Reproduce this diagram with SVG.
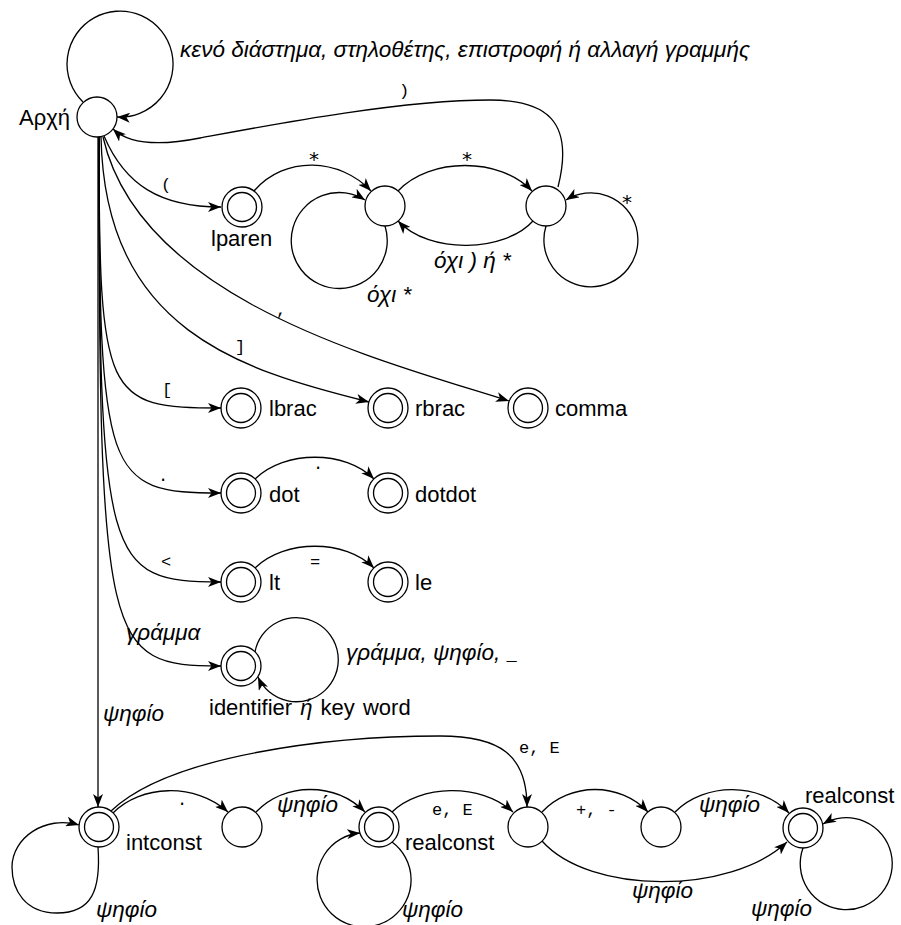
<svg xmlns="http://www.w3.org/2000/svg" width="901" height="925" viewBox="0 0 901 925">
<defs>
<marker id="ah" markerUnits="userSpaceOnUse" markerWidth="14" markerHeight="10" viewBox="0 0 14 10" refX="13" refY="5" orient="auto">
<path d="M0,0 L13,5 L0,10 L3.5,5 z" fill="#000"/>
</marker>
</defs>
<style>
.st{fill:#fff;stroke:#000;stroke-width:1.3}
.e{fill:none;stroke:#000;stroke-width:1.3;marker-end:url(#ah)}
.lb{font-family:"Liberation Sans",Arial,sans-serif;font-size:22px;fill:#000}
.it{font-family:"Liberation Sans",Arial,sans-serif;font-style:italic;font-size:22.5px;fill:#000}
.mo{font-family:"Liberation Mono","Courier New",monospace;font-size:17px;fill:#000}
.mc{font-family:"Liberation Mono","Courier New",monospace;font-size:17px;fill:#000;text-anchor:middle}
.ast{font-family:"DejaVu Sans Mono","Liberation Mono",monospace;font-size:20px;fill:#000;text-anchor:middle}
</style>
<rect width="901" height="925" fill="#fff"/>
<g id="connectors">
<path class="e" d="M83,102 A53,53 0 1 1 117,117"/>
<path class="e" d="M104,136 C125,185 160,207 221,207"/>
<path class="e" d="M254,191 C285,155 340,158 371,191"/>
<path class="e" d="M398,191 C430,157 500,157 532,191"/>
<path class="e" d="M533,221 C505,252 430,255 398,221"/>
<path class="e" d="M385,226 A48,48 0 1 1 365,200"/>
<path class="e" d="M546,226 A47,47 0 1 0 566,200"/>
<path class="e" d="M558,187 C575,120 545,100 490,100 C400,100 270,125 200,138 C160,146 130,145 113,129"/>
<path class="e" d="M103,137 C140,300 380,360 509,401"/>
<path class="e" d="M101,137 C105,330 240,370 369,402"/>
<path class="e" d="M99,137 C99,400 105,408 221,408"/>
<path class="e" d="M99,137 C99,480 105,493 221,493"/>
<path class="e" d="M99,137 C99,565 105,582 221,582"/>
<path class="e" d="M99,137 C99,650 105,666 221,666"/>
<path class="e" d="M98,137 L98,807"/>
<path class="e" d="M255,652 A42,42 0 1 1 258,677"/>
<path class="e" d="M255,479 C285,450 345,450 374,479"/>
<path class="e" d="M255,568 C285,539 345,539 374,568"/>
<path class="e" d="M98,847 C101,890 92,913 57,913 C25,913 12,890 12,867 C12,838 45,815 79,825"/>
<path class="e" d="M113,813 C140,785 195,782 228,812"/>
<path class="e" d="M111,811 C170,755 330,736 440,736 C500,736 527,755 527,807"/>
<path class="e" d="M256,812 C285,782 335,782 365,812"/>
<path class="e" d="M392,842 A47,47 0 1 1 360,833"/>
<path class="e" d="M392,812 C420,785 480,782 513,812"/>
<path class="e" d="M542,812 C570,782 620,782 648,812"/>
<path class="e" d="M675,812 C705,782 760,782 789,813"/>
<path class="e" d="M542,841 C590,895 730,895 787,842"/>
<path class="e" d="M803,848 A46,46 0 1 0 823,824"/>
</g>
<g id="edge-labels">
<text class="it" x="180" y="57">κενό διάστημα, στηλοθέτης, επιστροφή ή αλλαγή γραμμής</text>
<text class="mc" x="404" y="96">)</text>
<text class="mc" x="166" y="190">(</text>
<text class="ast" x="314" y="166">*</text>
<text class="ast" x="467" y="166">*</text>
<text class="ast" x="627" y="209">*</text>
<text class="it" x="434" y="268">όχι ) ή *</text>
<text class="it" x="367" y="302">όχι *</text>
<text class="mc" x="281" y="315" font-size="20">,</text>
<text class="mc" x="240" y="352">]</text>
<text class="mc" x="167" y="395">[</text>
<text class="mc" x="163" y="481">.</text>
<text class="mc" x="318" y="469">.</text>
<text class="mc" x="166" y="567">&lt;</text>
<text class="mc" x="315" y="567">=</text>
<text class="it" x="126" y="640">γράμμα</text>
<text class="it" x="346" y="660">γράμμα, ψηφίο, <tspan class="mo" font-style="normal">_</tspan></text>
<text class="it" x="103" y="721">ψηφίο</text>
<text class="mc" x="182" y="805">.</text>
<text class="mo" x="519" y="753">e, E</text>
<text class="it" x="277" y="812">ψηφίο</text>
<text class="mo" x="432" y="815">e, E</text>
<text class="mo" x="576" y="815">+, -</text>
<text class="it" x="699" y="812">ψηφίο</text>
<text class="it" x="632" y="898">ψηφίο</text>
<text class="it" x="96" y="917">ψηφίο</text>
<text class="it" x="402" y="917">ψηφίο</text>
<text class="it" x="751" y="916">ψηφίο</text>
</g>
<g id="n-start"><circle class="st" cx="97" cy="117" r="20"/><text class="lb" x="70" y="125" text-anchor="end">Αρχή</text></g>
<g id="n-lparen"><circle class="st" cx="242" cy="207" r="20"/><circle class="st" cx="242" cy="207" r="14.5"/><text class="lb" x="211" y="246">lparen</text></g>
<g id="n-c1"><circle class="st" cx="385" cy="206" r="20"/></g>
<g id="n-c2"><circle class="st" cx="546" cy="206" r="20"/></g>
<g id="n-lbrac"><circle class="st" cx="241" cy="408" r="20"/><circle class="st" cx="241" cy="408" r="14.5"/><text class="lb" x="269" y="416">lbrac</text></g>
<g id="n-rbrac"><circle class="st" cx="388" cy="408" r="20"/><circle class="st" cx="388" cy="408" r="14.5"/><text class="lb" x="415" y="416">rbrac</text></g>
<g id="n-comma"><circle class="st" cx="528" cy="408" r="20"/><circle class="st" cx="528" cy="408" r="14.5"/><text class="lb" x="555" y="416">comma</text></g>
<g id="n-dot"><circle class="st" cx="241" cy="493" r="20"/><circle class="st" cx="241" cy="493" r="14.5"/><text class="lb" x="269" y="502">dot</text></g>
<g id="n-dotdot"><circle class="st" cx="388" cy="493" r="20"/><circle class="st" cx="388" cy="493" r="14.5"/><text class="lb" x="415" y="502">dotdot</text></g>
<g id="n-lt"><circle class="st" cx="241" cy="582" r="20"/><circle class="st" cx="241" cy="582" r="14.5"/><text class="lb" x="269" y="590">lt</text></g>
<g id="n-le"><circle class="st" cx="388" cy="582" r="20"/><circle class="st" cx="388" cy="582" r="14.5"/><text class="lb" x="415" y="590">le</text></g>
<g id="n-ident"><circle class="st" cx="241" cy="666" r="20"/><circle class="st" cx="241" cy="666" r="14.5"/><text class="lb" x="209" y="715" word-spacing="2">identifier <tspan font-style="italic">ή</tspan> key word</text></g>
<g id="n-intconst"><circle class="st" cx="99" cy="827" r="20"/><circle class="st" cx="99" cy="827" r="14.5"/><text class="lb" x="126" y="850">intconst</text></g>
<g id="n-a"><circle class="st" cx="242" cy="827" r="20"/></g>
<g id="n-real1"><circle class="st" cx="379" cy="827" r="20"/><circle class="st" cx="379" cy="827" r="14.5"/><text class="lb" x="405" y="850">realconst</text></g>
<g id="n-b"><circle class="st" cx="528" cy="827" r="20"/></g>
<g id="n-c"><circle class="st" cx="661" cy="827" r="20"/></g>
<g id="n-real2"><circle class="st" cx="803" cy="828" r="20"/><circle class="st" cx="803" cy="828" r="14.5"/><text class="lb" x="805" y="803">realconst</text></g>
</svg>
